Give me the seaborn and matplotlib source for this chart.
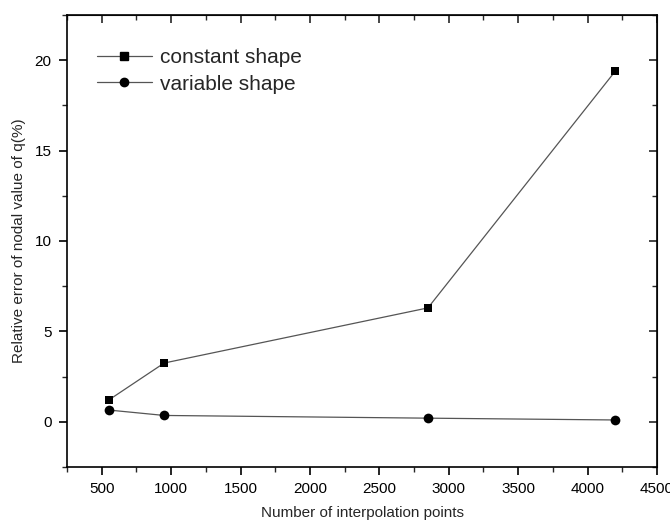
import matplotlib
matplotlib.use("Agg")
import matplotlib.pyplot as plt
import seaborn as sns
import pandas as pd
from matplotlib.ticker import MultipleLocator
from matplotlib.lines import Line2D

x_points = [550, 950, 2850, 4200]
constant_shape = [1.2, 3.25, 6.3, 19.4]
variable_shape = [0.65, 0.35, 0.2, 0.1]
series_names = ["constant shape", "variable shape"]

df = pd.DataFrame({
    "x": x_points * 2,
    "y": constant_shape + variable_shape,
    "series": [series_names[0]] * 4 + [series_names[1]] * 4,
})

sns.set_style("ticks")
plt.rcParams["font.family"] = ["Liberation Sans", "DejaVu Sans"]

fig = plt.figure(figsize=(6.7, 5.27), dpi=100)
ax = fig.add_axes([0.1, 0.1139, 0.8806, 0.8576])

sns.lineplot(data=df, x="x", y="y", hue="series", style="series",
             markers={"constant shape": "s", "variable shape": "o"},
             dashes=False, palette={"constant shape": "#555555", "variable shape": "#555555"},
             markeredgewidth=0, linewidth=0.9, ax=ax, legend=False)
lines = ax.get_lines()
for line in lines:
    line.set_markerfacecolor("black")
    line.set_markeredgecolor("black")
    line.set_markersize(7 if line.get_marker() == "o" else 6.2)

ax.set_xlim(250, 4500)
ax.set_ylim(-2.5, 22.5)
ax.xaxis.set_minor_locator(MultipleLocator(250))
ax.yaxis.set_minor_locator(MultipleLocator(2.5))
ax.set_xticks([500, 1000, 1500, 2000, 2500, 3000, 3500, 4000, 4500])
ax.set_yticks([0, 5, 10, 15, 20])

for s in ax.spines.values():
    s.set_visible(True)
    s.set_linewidth(1.2)
    s.set_color("black")

ax.tick_params(which="major", direction="out", length=6, width=1.2, labelsize=11,
               colors="black", pad=5)
ax.tick_params(which="minor", direction="out", length=3.5, width=1.0)

secx = ax.secondary_xaxis("top")
secx.xaxis.set_major_locator(MultipleLocator(500))
secx.xaxis.set_minor_locator(MultipleLocator(250))
secx.tick_params(which="major", direction="in", length=6, width=1.2, labeltop=False)
secx.tick_params(which="minor", direction="in", length=3.5, width=1.0)
secy = ax.secondary_yaxis("right")
secy.yaxis.set_major_locator(MultipleLocator(5))
secy.yaxis.set_minor_locator(MultipleLocator(2.5))
secy.tick_params(which="major", direction="in", length=6, width=1.2, labelright=False)
secy.tick_params(which="minor", direction="in", length=3.5, width=1.0)

ax.set_xlabel("Number of interpolation points", fontsize=11, labelpad=7)
ax.set_ylabel("Relative error of nodal value of q(%)", fontsize=11, labelpad=6)

handles = [
    Line2D([], [], color="#555555", lw=0.9, marker="s", markersize=5.5,
           markerfacecolor="black", markeredgecolor="black"),
    Line2D([], [], color="#555555", lw=0.9, marker="o", markersize=6,
           markerfacecolor="black", markeredgecolor="black"),
]
ax.legend(handles, series_names, loc="upper left", frameon=False, fontsize=15,
          bbox_to_anchor=(0.036, 0.945), handlelength=2.65, handletextpad=0.4,
          labelspacing=0.35, borderaxespad=0)

fig.savefig("out.png", dpi=100)
